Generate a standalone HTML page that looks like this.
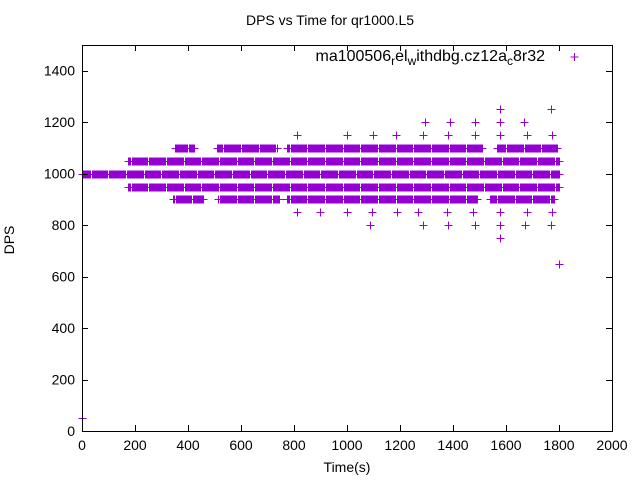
<!DOCTYPE html>
<html><head><meta charset="utf-8"><style>
body{margin:0;background:#fff;}
svg{display:block;font-family:"Liberation Sans",sans-serif;}
</style></head><body>
<svg id="chart" width="640" height="480">
<rect x="0" y="0" width="640" height="480" fill="#fff"/>
<text x="330" y="25" font-size="14" text-anchor="middle">DPS vs Time for qr1000.L5</text>
<text x="347" y="472" font-size="14" text-anchor="middle">Time(s)</text>
<text x="14" y="240" font-size="14" text-anchor="middle" transform="rotate(-90 14 240)">DPS</text>
<g>
<text x="545" y="61" font-size="16" text-anchor="end">ma100506<tspan font-size="12" dy="4">r</tspan><tspan dy="-4">el</tspan><tspan font-size="12" dy="4">w</tspan><tspan dy="-4">ithdbg.cz12a</tspan><tspan font-size="12" dy="4">c</tspan><tspan dy="-4">8r32</tspan></text>
<path d="M570.5 57h8M574.5 53v8" stroke="#9400d3" stroke-width="1"/>
</g>
<g id="plot"></g>
<rect x="82.5" y="45.5" width="530" height="386" fill="none" stroke="#000"/>
</svg>
<script>
const xTicks=[0,200,400,600,800,1000,1200,1400,1600,1800,2000];
const yTicks=[0,200,400,600,800,1000,1200,1400];
// dense runs: [level, start, end]
const runLevels=[1000,1050,950,1100,1100,1100,1100,900,900,900,900];
const runStarts=[0,175,175,350,510,775,1566,345,515,775,1540];
const runEnds=[1800,1800,1800,425,735,1513,1796,460,745,1494,1780];
// sparse points
const ptLevels=[50,1150,1150,1150,1150,1150,1150,1150,1150,1150,1150,1200,1200,1200,1200,1200,1250,1250,850,850,850,850,850,850,850,850,850,850,850,800,800,800,800,800,800,800,750,650];
const ptTimes=[0,810,1000,1098,1185,1287,1381,1483,1577,1679,1773,1294,1389,1483,1577,1668,1577,1770,811,898,1000,1094,1189,1268,1377,1475,1577,1679,1773,1087,1287,1381,1483,1577,1672,1770,1577,1800];
const X0=82,X1=612,Y0=431,Y1=45,XMAX=2000,YMAX=1500;
const sx=v=>X0+(X1-X0)*v/XMAX;
const sy=v=>Y0-(Y0-Y1)*v/YMAX;
const NS="http://www.w3.org/2000/svg";
const svg=document.getElementById('chart');
const plot=document.getElementById('plot');
function mk(tag,attrs,parent){const e=document.createElementNS(NS,tag);for(const k in attrs)e.setAttribute(k,attrs[k]);(parent||svg).appendChild(e);return e;}
xTicks.forEach(t=>{
 const x=Math.round(sx(t))+0.5;
 const p=mk('path',{d:`M${x} 431v-6M${x} 45v6`,stroke:'#000'});
 
 
 const l=mk('text',{x:sx(t),y:450,'font-size':14,'text-anchor':'middle'});
 l.textContent=t;
 
 
});
yTicks.forEach(t=>{
 const y=Math.round(sy(t))+0.5;
 const p=mk('path',{d:`M82 ${y}h6M612 ${y}h-6`,stroke:'#000'});
 
 
 const l=mk('text',{x:75,y:sy(t)+5,'font-size':14,'text-anchor':'end'});
 l.textContent=t;
 
 
});
let d='';
function plus(t,v){const x=Math.round(sx(t))+0.5,y=Math.round(sy(v))+0.5;d+=`M${x-4} ${y}h8M${x} ${y-4}v8`;}
for(let i=0;i<runLevels.length;i++){
 for(let t=runStarts[i];t<=runEnds[i];t+=4)plus(t,runLevels[i]);
}
for(let i=0;i<ptLevels.length;i++)plus(ptTimes[i],ptLevels[i]);
const s=mk('path',{d:d,stroke:'#9400d3','stroke-width':1,fill:'none'},plot);


</script>
</body></html>
